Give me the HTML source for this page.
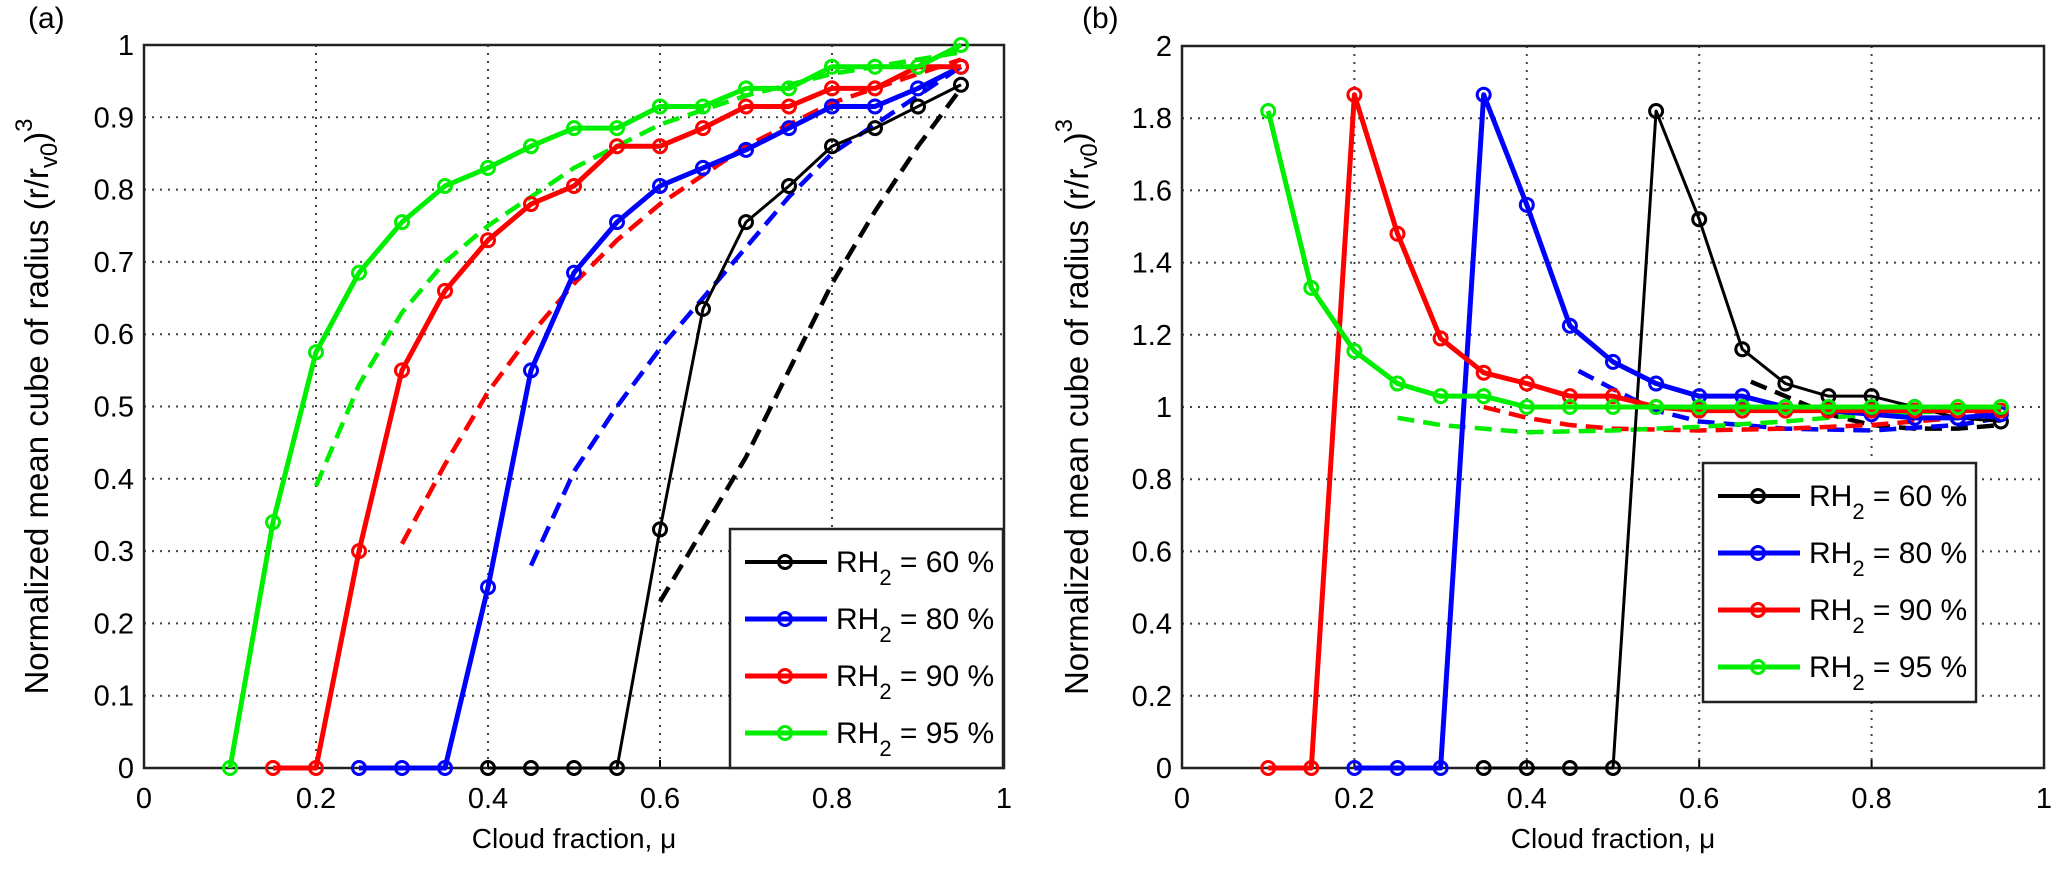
<!DOCTYPE html>
<html><head><meta charset="utf-8"><style>
body{margin:0;background:#fff}
svg{display:block;font-family:"Liberation Sans",sans-serif}
</style></head><body>
<svg id="fig" width="2067" height="872" viewBox="0 0 2067 872" xmlns="http://www.w3.org/2000/svg"></svg>
<script>
const xTicks=[0,0.2,0.4,0.6,0.8,1];
const xTickLabels=["0","0.2","0.4","0.6","0.8","1"];
const yTicksA=[0,0.1,0.2,0.3,0.4,0.5,0.6,0.7,0.8,0.9,1];
const yTickLabelsA=["0","0.1","0.2","0.3","0.4","0.5","0.6","0.7","0.8","0.9","1"];
const yTicksB=[0,0.2,0.4,0.6,0.8,1,1.2,1.4,1.6,1.8,2];
const yTickLabelsB=["0","0.2","0.4","0.6","0.8","1","1.2","1.4","1.6","1.8","2"];
const seriesNames=["RH2 = 60 %","RH2 = 80 %","RH2 = 90 %","RH2 = 95 %"];
// panel a solid
const a60x=[0.4,0.45,0.5,0.55,0.6,0.65,0.7,0.75,0.8,0.85,0.9,0.95];
const a60y=[0,0,0,0,0.33,0.635,0.755,0.805,0.86,0.885,0.915,0.945];
const a80x=[0.25,0.3,0.35,0.4,0.45,0.5,0.55,0.6,0.65,0.7,0.75,0.8,0.85,0.9,0.95];
const a80y=[0,0,0,0.25,0.55,0.685,0.755,0.805,0.83,0.855,0.885,0.915,0.915,0.94,0.97];
const a90x=[0.15,0.2,0.25,0.3,0.35,0.4,0.45,0.5,0.55,0.6,0.65,0.7,0.75,0.8,0.85,0.9,0.95];
const a90y=[0,0,0.3,0.55,0.66,0.73,0.78,0.805,0.86,0.86,0.885,0.915,0.915,0.94,0.94,0.97,0.97];
const a95x=[0.1,0.15,0.2,0.25,0.3,0.35,0.4,0.45,0.5,0.55,0.6,0.65,0.7,0.75,0.8,0.85,0.9,0.95];
const a95y=[0,0.34,0.575,0.685,0.755,0.805,0.83,0.86,0.885,0.885,0.915,0.915,0.94,0.94,0.97,0.97,0.97,1.0];
// panel a dashed
const a60dx=[0.6,0.65,0.7,0.75,0.8,0.85,0.9,0.95];
const a60dy=[0.23,0.33,0.43,0.55,0.67,0.77,0.86,0.94];
const a80dx=[0.45,0.5,0.55,0.6,0.65,0.7,0.75,0.8,0.85,0.9,0.95];
const a80dy=[0.28,0.41,0.5,0.58,0.65,0.72,0.79,0.85,0.89,0.93,0.97];
const a90dx=[0.3,0.35,0.4,0.45,0.5,0.55,0.6,0.65,0.7,0.75,0.8,0.85,0.9,0.95];
const a90dy=[0.31,0.42,0.52,0.6,0.67,0.73,0.78,0.82,0.86,0.89,0.92,0.94,0.96,0.98];
const a95dx=[0.2,0.25,0.3,0.35,0.4,0.45,0.5,0.55,0.6,0.65,0.7,0.8,0.9,0.95];
const a95dy=[0.39,0.53,0.63,0.7,0.75,0.79,0.83,0.86,0.89,0.91,0.93,0.96,0.98,0.99];
// panel b solid
const b60x=[0.35,0.4,0.45,0.5,0.55,0.6,0.65,0.7,0.75,0.8,0.85,0.9,0.95];
const b60y=[0,0,0,0,1.82,1.52,1.16,1.065,1.03,1.03,1.0,0.97,0.96];
const b80x=[0.2,0.25,0.3,0.35,0.4,0.45,0.5,0.55,0.6,0.65,0.7,0.75,0.8,0.85,0.9,0.95];
const b80y=[0,0,0,1.865,1.56,1.225,1.125,1.065,1.03,1.03,1.0,0.99,0.98,0.97,0.97,0.98];
const b90x=[0.1,0.15,0.2,0.25,0.3,0.35,0.4,0.45,0.5,0.55,0.6,0.65,0.7,0.75,0.8,0.85,0.9,0.95];
const b90y=[0,0,1.865,1.48,1.19,1.095,1.065,1.03,1.03,1.0,0.99,0.99,0.99,0.99,0.99,0.99,0.99,0.99];
const b95x=[0.1,0.15,0.2,0.25,0.3,0.35,0.4,0.45,0.5,0.55,0.6,0.65,0.7,0.75,0.8,0.85,0.9,0.95];
const b95y=[1.82,1.33,1.155,1.065,1.03,1.03,1.0,1.0,1.0,1.0,1.0,1.0,1.0,1.0,1.0,1.0,1.0,1.0];
// panel b dashed
const b60dx=[0.66,0.7,0.75,0.8,0.85,0.9,0.95];
const b60dy=[1.07,1.03,0.98,0.95,0.94,0.94,0.95];
const b80dx=[0.46,0.5,0.55,0.6,0.7,0.8,0.9,0.95];
const b80dy=[1.1,1.05,0.99,0.96,0.94,0.935,0.95,0.97];
const b90dx=[0.35,0.4,0.45,0.5,0.6,0.7,0.8,0.9,0.95];
const b90dy=[1.0,0.97,0.95,0.94,0.935,0.94,0.95,0.97,0.99];
const b95dx=[0.25,0.3,0.35,0.4,0.5,0.6,0.7,0.8,0.9,0.95];
const b95dy=[0.97,0.95,0.94,0.93,0.935,0.945,0.96,0.98,0.99,1.0];

const colors=["#000000","#0000ff","#ff0000","#00ee00"];
const NS="http://www.w3.org/2000/svg";
const svg=document.getElementById('fig');
function mk(tag,attrs,parent){const e=document.createElementNS(NS,tag);for(const k in attrs)e.setAttribute(k,attrs[k]);(parent||svg).appendChild(e);return e;}

function panel(P){
  const g=mk('g',{});
  
  
  const sx=v=>P.L+(v-0)/(1-0)*(P.R-P.L);
  const sy=v=>P.B-(v/P.ymax)*(P.B-P.T);
  xTicks.forEach((t,i)=>{
    if(i>0&&i<xTicks.length-1){const l=mk('line',{x1:sx(t),x2:sx(t),y1:P.T,y2:P.B,stroke:'#444','stroke-width':2,'stroke-dasharray':'2 6'},g);
    }
    const tl=mk('line',{x1:sx(t),x2:sx(t),y1:P.B,y2:P.B-8,stroke:'#000','stroke-width':2},g);
    
    const tx=mk('text',{x:sx(t),y:P.B+40,'font-size':29,'text-anchor':'middle'},g);tx.textContent=xTickLabels[i];
    
  });
  P.yt.forEach((t,i)=>{
    if(i>0&&i<P.yt.length-1){const l=mk('line',{x1:P.L,x2:P.R,y1:sy(t),y2:sy(t),stroke:'#444','stroke-width':2,'stroke-dasharray':'2 6'},g);
    }
    const tx=mk('text',{x:P.L-10,y:sy(t)+10,'font-size':29,'text-anchor':'end'},g);tx.textContent=P.ytl[i];
    
  });
  const fr=mk('rect',{x:P.L,y:P.T,width:P.R-P.L,height:P.B-P.T,fill:'none',stroke:'#222','stroke-width':2.5},g);
  
  P.dashed.forEach((s,k)=>{
    const p=mk('polyline',{points:s[0].map((x,i)=>sx(x)+','+sy(s[1][i])).join(' '),fill:'none',stroke:colors[k],'stroke-width':4.5,'stroke-dasharray':'17 9'},g);
    
  });
  P.solid.forEach((s,k)=>{
    const p=mk('polyline',{points:s[0].map((x,i)=>sx(x)+','+sy(s[1][i])).join(' '),fill:'none',stroke:colors[k],'stroke-width':k===0?3:5,'stroke-linejoin':'round'},g);
    
    s[0].forEach((x,i)=>{
      const c=mk('circle',{cx:sx(x),cy:sy(s[1][i]),r:6.5,fill:'none',stroke:colors[k],'stroke-width':3},g);
      
    });
  });
  const lg=mk('g',{},g);
  
  const lr=mk('rect',{x:P.lx,y:P.ly,width:P.lw,height:P.lh,fill:'#fff',stroke:'#222','stroke-width':2.5},lg);
  
  seriesNames.forEach((n,k)=>{
    const y=P.ly+33+k*57;
    const e=mk('g',{},lg);
    
    mk('line',{x1:P.lx+15,x2:P.lx+97,y1:y,y2:y,stroke:colors[k],'stroke-width':k===0?4:5},e);
    mk('circle',{cx:P.lx+55,cy:y,r:6.5,fill:'none',stroke:colors[k],'stroke-width':3},e);
    const t=mk('text',{x:P.lx+106,y:y+10,'font-size':30},e);
    t.innerHTML='RH<tspan dy="13" font-size="22">2</tspan><tspan dy="-13"> = '+['60','80','90','95'][k]+' %</tspan>';
  });
  const xl=mk('text',{x:(P.L+P.R)/2,y:P.B+80,'font-size':28,'text-anchor':'middle'},g);
  xl.textContent='Cloud fraction, μ';
  
  const yl=mk('text',{x:0,y:0,'font-size':33,'text-anchor':'middle',transform:`translate(${P.ylx},${(P.T+P.B)/2}) rotate(-90)`},g);
  yl.innerHTML='Normalized  mean cube of radius (r/r<tspan dy="9" font-size="24">v0</tspan><tspan dy="-9">)</tspan><tspan dy="-16" font-size="24">3</tspan>';
  
  const pl=mk('text',{x:P.plx,y:28,'font-size':30},g);pl.textContent=P.label;
  
}
panel({id:'a',label:'(a)',L:144,R:1004,T:45,B:768,ymax:1,yt:yTicksA,ytl:yTickLabelsA,
  solid:[[a60x,a60y],[a80x,a80y],[a90x,a90y],[a95x,a95y]],
  dashed:[[a60dx,a60dy],[a80dx,a80dy],[a90dx,a90dy],[a95dx,a95dy]],
  lx:730,ly:529,lw:273,lh:239,ylx:48,plx:28});
panel({id:'b',label:'(b)',L:1182,R:2044,T:46,B:768,ymax:2,yt:yTicksB,ytl:yTickLabelsB,
  solid:[[b60x,b60y],[b80x,b80y],[b90x,b90y],[b95x,b95y]],
  dashed:[[b60dx,b60dy],[b80dx,b80dy],[b90dx,b90dy],[b95dx,b95dy]],
  lx:1703,ly:463,lw:273,lh:239,ylx:1088,plx:1082});
</script>
</body></html>
